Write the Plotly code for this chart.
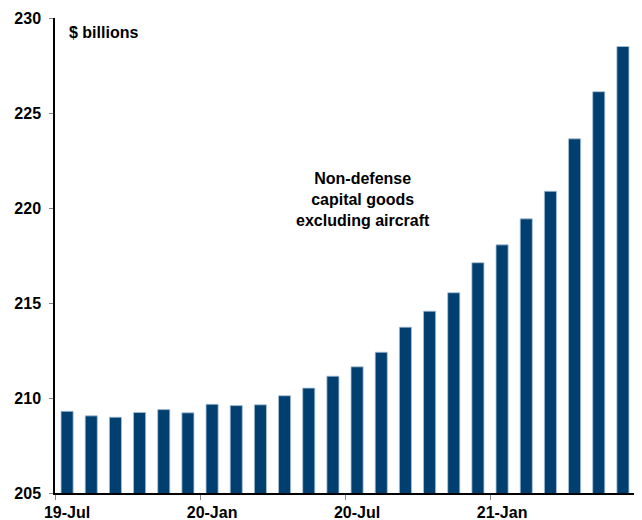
import plotly.graph_objects as go

months = ["19-Jul", "19-Aug", "19-Sep", "19-Oct", "19-Nov", "19-Dec",
          "20-Jan", "20-Feb", "20-Mar", "20-Apr", "20-May", "20-Jun",
          "20-Jul", "20-Aug", "20-Sep", "20-Oct", "20-Nov", "20-Dec",
          "21-Jan", "21-Feb", "21-Mar", "21-Apr", "21-May", "21-Jun"]
values = [209.3, 209.06, 208.99, 209.24, 209.39, 209.22,
          209.67, 209.6, 209.64, 210.12, 210.52, 211.15,
          211.64, 212.41, 213.73, 214.57, 215.54, 217.12,
          218.06, 219.43, 220.88, 223.64, 226.12, 228.5]

BAR = "#003F6F"
FONT = "Liberation Sans, Arial, sans-serif"

fig = go.Figure()
fig.add_trace(go.Bar(
    x=months, y=values,
    marker=dict(color=BAR, line=dict(color="#A9C1DA", width=0.8)),
    hoverinfo="x+y",
))

# page body has an 8px default margin, so the figure is offset by 8px
fig.update_layout(
    width=634, height=512,
    margin=dict(l=47, r=7, t=10, b=26.5),
    paper_bgcolor="white", plot_bgcolor="white",
    bargap=0.5, showlegend=False,
    font=dict(family=FONT, size=16, color="black"),
    xaxis=dict(
        type="category", tickmode="linear", tick0=0, dtick=6,
        tickson="boundaries", ticks="outside", ticklen=5, tickcolor="#888888",
        tickangle=0, automargin=False, ticklabelstandoff=4,
        showline=True, linecolor="black", linewidth=1.5,
        showgrid=False, zeroline=False,
        tickfont=dict(family=FONT, size=16, color="black", weight="bold"),
        range=[-0.5, 23.5],
    ),
    yaxis=dict(
        range=[205, 230], tickmode="linear", tick0=205, dtick=5,
        ticks="outside", ticklen=4, tickcolor="#888888",
        automargin=False, ticklabelstandoff=5,
        showline=True, linecolor="black", linewidth=1.5,
        showgrid=False, zeroline=False,
        tickfont=dict(family=FONT, size=16, color="black", weight="bold"),
    ),
    annotations=[
        dict(text="<b>$ billions</b>", xref="paper", yref="paper",
             x=0.02, y=(493.5 - 33) / 475.5, xanchor="left", yanchor="middle",
             showarrow=False, font=dict(family=FONT, size=16, color="black")),
        dict(text="<b>Non-defense<br>capital goods<br>excluding aircraft</b>",
             xref="paper", yref="paper", x=(363 - 55) / 580, y=(493.5 - 200) / 475.5,
             xanchor="center", yanchor="middle", align="center", showarrow=False,
             font=dict(family=FONT, size=16, color="black")),
    ],
)

fig.write_html("out.html")
